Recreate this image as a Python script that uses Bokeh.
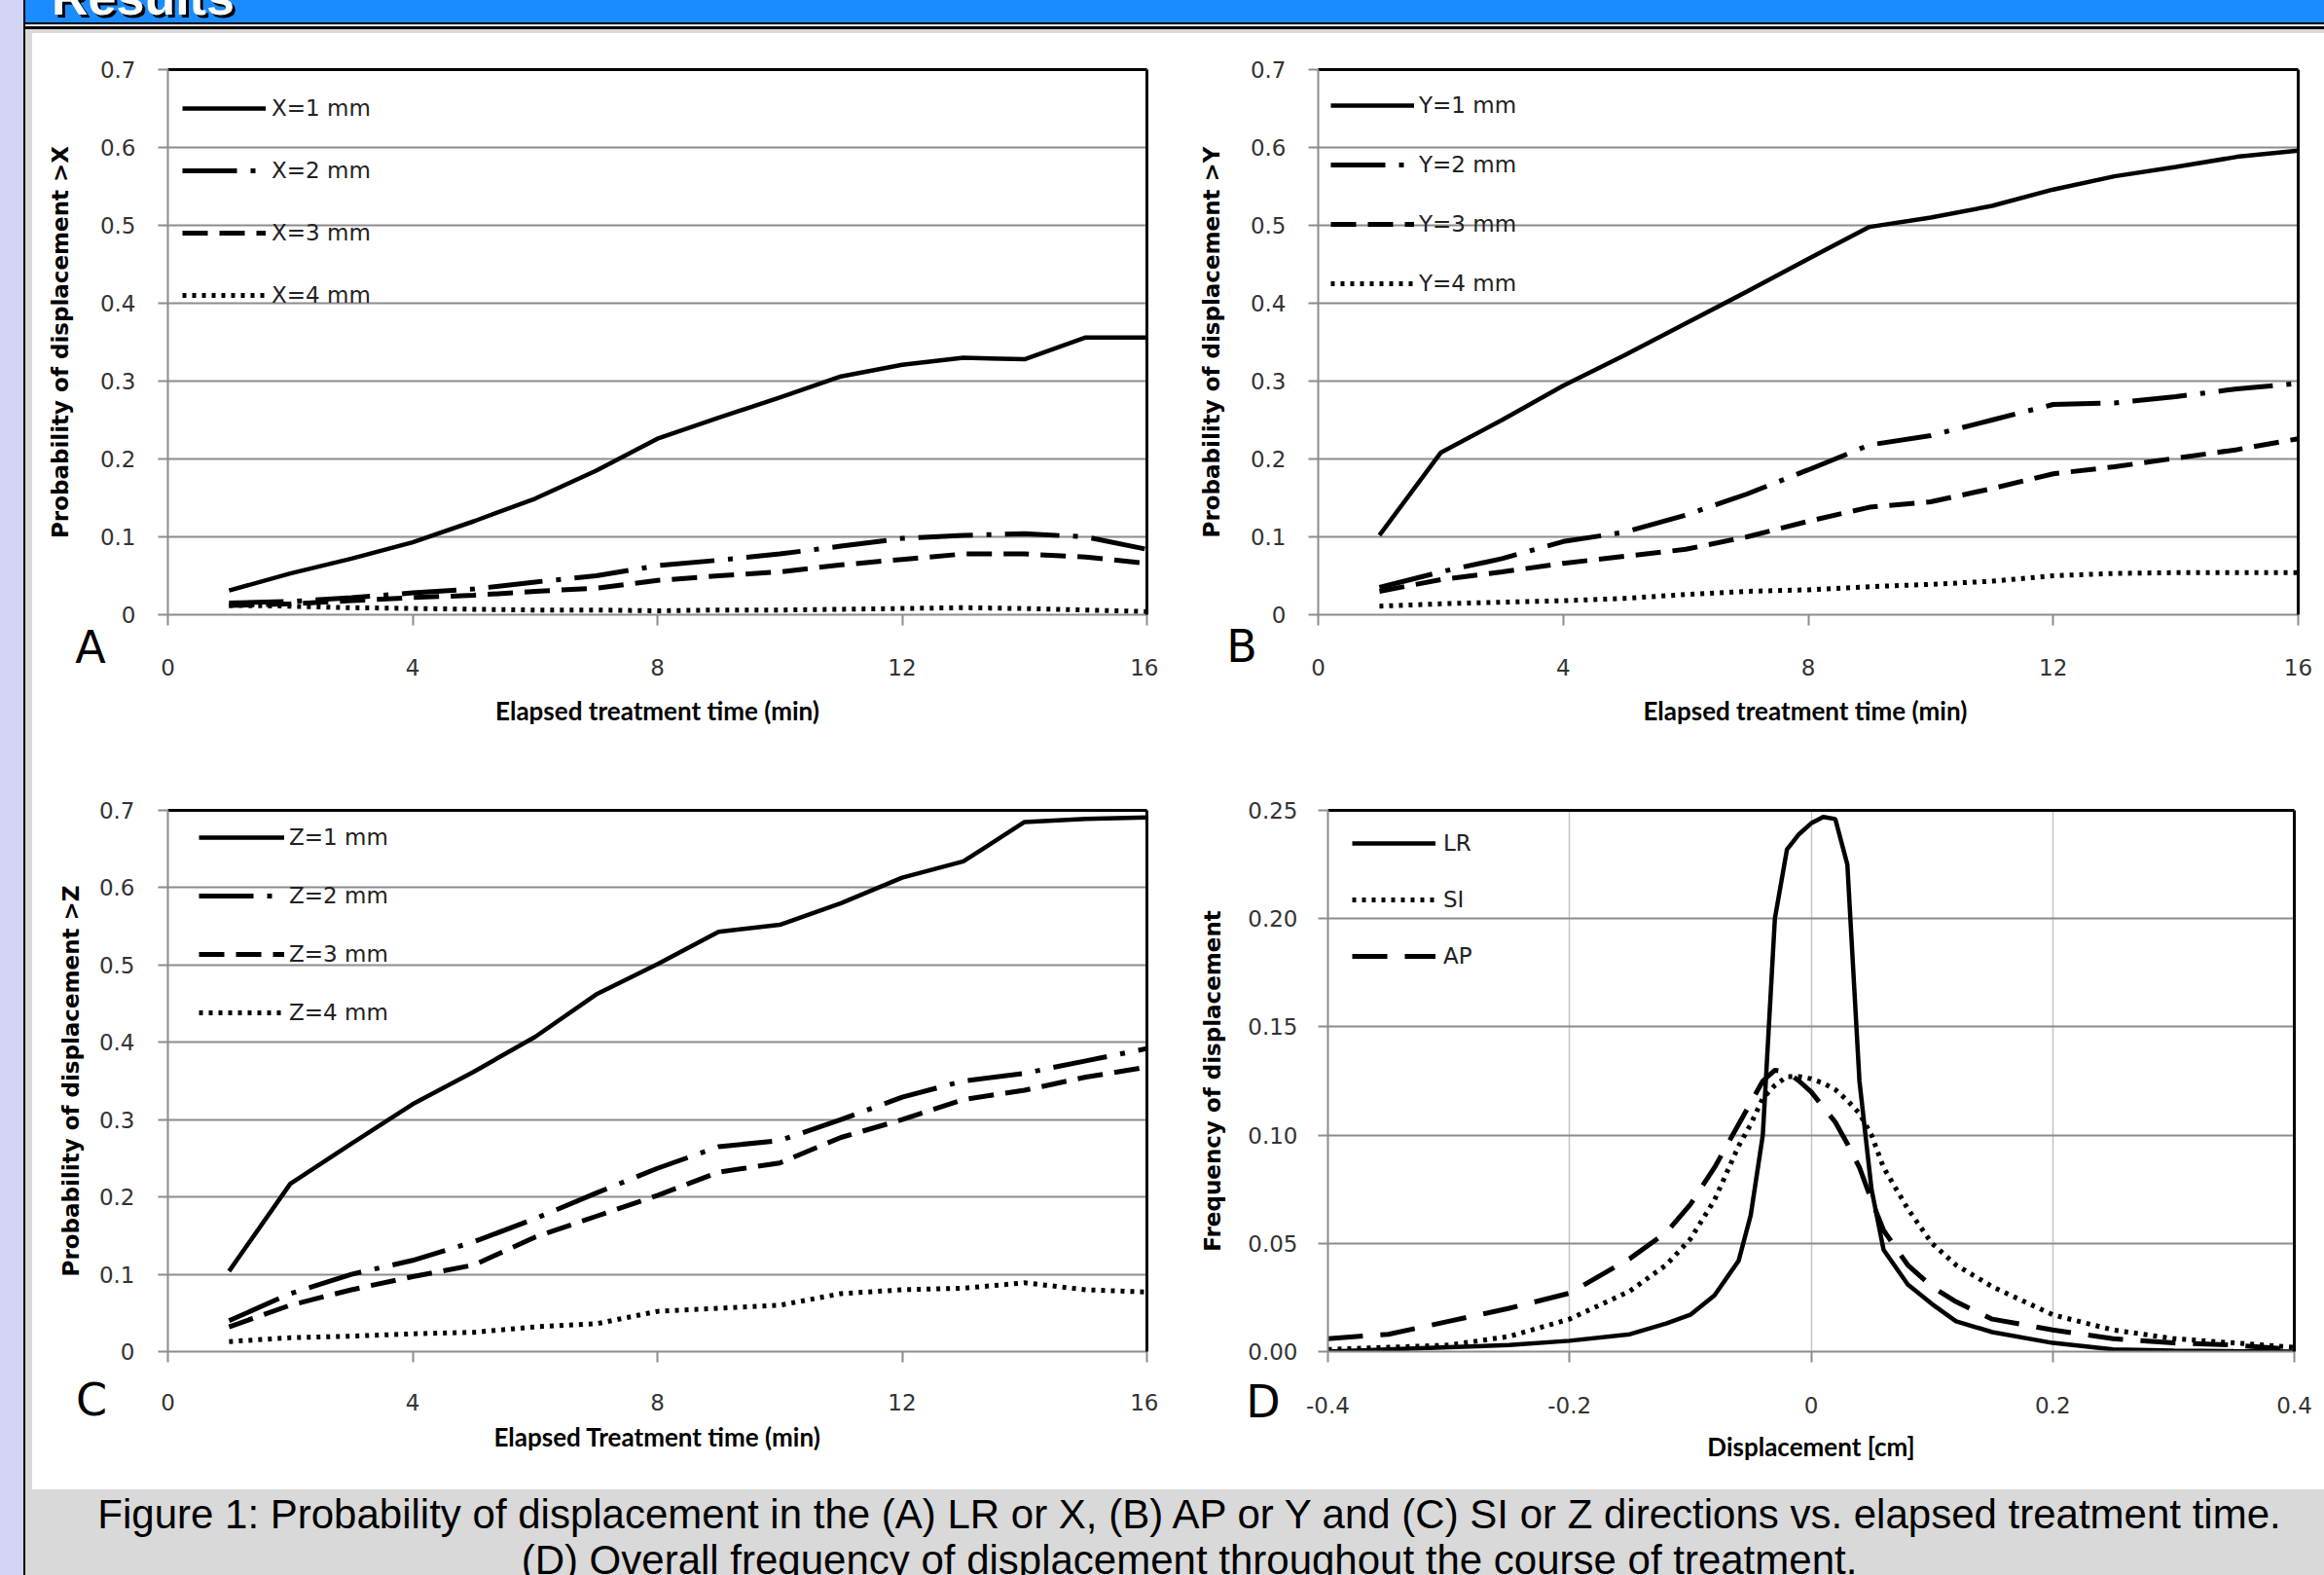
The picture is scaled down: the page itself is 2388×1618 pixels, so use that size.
from bokeh.plotting import figure
from bokeh.models import Div, Legend, LegendItem, LinearAxis, FixedTicker, Range1d
from bokeh.layouts import row, column
from bokeh.embed import file_html
from bokeh.resources import INLINE

# ---------------- data ----------------
time_min = [1, 2, 3, 4, 5, 6, 7, 8, 9, 10, 11, 12, 13, 14, 15, 16]

x_1mm = [0.031, 0.053, 0.072, 0.093, 0.120, 0.149, 0.185, 0.226, 0.253, 0.279, 0.306, 0.321, 0.330, 0.328, 0.356, 0.356]
x_2mm = [0.015, 0.017, 0.022, 0.028, 0.033, 0.042, 0.050, 0.063, 0.070, 0.078, 0.088, 0.098, 0.102, 0.104, 0.100, 0.084]
x_3mm = [0.012, 0.014, 0.018, 0.022, 0.025, 0.030, 0.034, 0.044, 0.050, 0.055, 0.064, 0.071, 0.078, 0.078, 0.074, 0.066]
x_4mm = [0.012, 0.011, 0.009, 0.008, 0.007, 0.006, 0.006, 0.005, 0.006, 0.006, 0.007, 0.008, 0.009, 0.008, 0.006, 0.004]

y_1mm = [0.102, 0.208, 0.250, 0.294, 0.333, 0.374, 0.415, 0.457, 0.498, 0.510, 0.525, 0.546, 0.563, 0.575, 0.588, 0.596]
y_2mm = [0.035, 0.055, 0.072, 0.094, 0.106, 0.128, 0.155, 0.186, 0.218, 0.230, 0.250, 0.270, 0.272, 0.280, 0.290, 0.297]
y_3mm = [0.030, 0.045, 0.055, 0.066, 0.075, 0.084, 0.100, 0.120, 0.138, 0.145, 0.162, 0.181, 0.190, 0.201, 0.212, 0.226]
y_4mm = [0.011, 0.014, 0.016, 0.018, 0.021, 0.026, 0.030, 0.032, 0.036, 0.039, 0.043, 0.050, 0.053, 0.054, 0.054, 0.054]

z_1mm = [0.104, 0.217, 0.269, 0.320, 0.362, 0.407, 0.462, 0.501, 0.543, 0.552, 0.580, 0.613, 0.634, 0.685, 0.689, 0.691]
z_2mm = [0.040, 0.075, 0.100, 0.118, 0.142, 0.172, 0.205, 0.237, 0.265, 0.273, 0.300, 0.329, 0.350, 0.360, 0.376, 0.392]
z_3mm = [0.032, 0.060, 0.080, 0.097, 0.112, 0.148, 0.175, 0.202, 0.232, 0.244, 0.277, 0.300, 0.326, 0.338, 0.355, 0.368]
z_4mm = [0.013, 0.018, 0.020, 0.023, 0.025, 0.032, 0.036, 0.052, 0.056, 0.060, 0.075, 0.080, 0.082, 0.089, 0.080, 0.077]

displacement_cm = [-0.40, -0.35, -0.30, -0.25, -0.20, -0.15, -0.12, -0.10, -0.08, -0.06, -0.05, -0.04, -0.03,
                   -0.02, -0.01, 0.00, 0.01, 0.02, 0.03, 0.04, 0.05, 0.06, 0.08, 0.10, 0.12, 0.15, 0.20,
                   0.25, 0.30, 0.35, 0.40]
freq_LR = [0.000, 0.001, 0.002, 0.003, 0.005, 0.008, 0.013, 0.017, 0.026, 0.042, 0.063, 0.100, 0.200,
           0.232, 0.239, 0.244, 0.247, 0.246, 0.225, 0.125, 0.075, 0.047, 0.031, 0.022, 0.014, 0.009, 0.004,
           0.001, 0.0005, 0.0002, 0.000]
freq_SI = [0.001, 0.002, 0.003, 0.007, 0.015, 0.028, 0.040, 0.052, 0.070, 0.095, 0.105, 0.117, 0.123,
           0.127, 0.127, 0.126, 0.124, 0.121, 0.116, 0.110, 0.100, 0.085, 0.066, 0.050, 0.040, 0.030, 0.017,
           0.010, 0.006, 0.004, 0.002]
freq_AP = [0.006, 0.008, 0.014, 0.020, 0.027, 0.043, 0.055, 0.068, 0.085, 0.105, 0.115, 0.125, 0.130,
           0.129, 0.125, 0.120, 0.113, 0.106, 0.096, 0.085, 0.070, 0.056, 0.040, 0.030, 0.023, 0.015, 0.010,
           0.006, 0.004, 0.003, 0.001]

time_ticks = [0, 4, 8, 12, 16]
time_tick_labels = ["0", "4", "8", "12", "16"]
prob_ticks = [0, 0.1, 0.2, 0.3, 0.4, 0.5, 0.6, 0.7]
prob_tick_labels = ["0", "0.1", "0.2", "0.3", "0.4", "0.5", "0.6", "0.7"]
disp_ticks = [-0.4, -0.2, 0, 0.2, 0.4]
disp_tick_labels = ["-0.4", "-0.2", "0", "0.2", "0.4"]
disp_grid = [-0.2, 0, 0.2]
freq_ticks = [0, 0.05, 0.1, 0.15, 0.2, 0.25]
freq_tick_labels = ["0.00", "0.05", "0.10", "0.15", "0.20", "0.25"]

panel_letters = ["A", "B", "C", "D"]
caption_1 = "Figure 1: Probability of displacement in the (A) LR or X, (B) AP or Y and (C) SI or Z directions vs. elapsed treatment time."
caption_2 = "(D) Overall frequency of displacement throughout the course of treatment."

# ---------------- styles ----------------
GRID = "#8c8c8c"
TICKFONT = "DejaVu Sans"
STYLE_SOLID = dict(line_width=4.5, line_dash="solid")
STYLE_DASHDOT = dict(line_width=5, line_dash="56 14 5 14")
STYLE_DASH = dict(line_width=5, line_dash="26 12")
STYLE_DOT = dict(line_width=5, line_dash="4 6")
STYLE_LONGDASH = dict(line_width=5, line_dash="36 18")
# page positions (px) of the panel letters, which sit outside the plot frames
LETTER_POS = [(93, 665), (1276, 664), (94, 1438), (1298, 1440)]


def make_panel(W, H, bl, br, bt, bb, xr, yr, xt, xtl, yt, ytl, xtitle, ytitle,
               xls, xts, yls, yts):
    p = figure(width=W, height=H, min_border_left=bl, min_border_right=br,
               min_border_top=bt, min_border_bottom=bb,
               x_range=Range1d(*xr), y_range=Range1d(*yr),
               output_backend="svg", toolbar_location=None, tools="", margin=0)
    p.outline_line_color = None
    p.background_fill_color = "white"
    p.border_fill_color = "white"
    for ax, ticks, labels in ((p.xaxis[0], xt, xtl), (p.yaxis[0], yt, ytl)):
        ax.ticker = FixedTicker(ticks=ticks)
        ax.major_label_overrides = {t: l for t, l in zip(ticks, labels)}
        ax.axis_line_color = GRID
        ax.axis_line_width = 2
        ax.major_tick_line_color = GRID
        ax.major_tick_line_width = 2
        ax.major_tick_in = 0
        ax.minor_tick_line_color = None
        ax.major_label_text_font = TICKFONT
        ax.major_label_text_font_size = "23px"
        ax.major_label_text_color = "#333333"
        ax.axis_label_text_color = "black"
        ax.axis_label_text_font_style = "bold"
    p.xaxis.major_tick_out = 11
    p.yaxis.major_tick_out = 10
    p.xaxis.axis_label = xtitle
    p.yaxis.axis_label = ytitle
    p.xaxis.axis_label_text_font = "Lato"
    p.xaxis.axis_label_text_font_size = "26px"
    p.yaxis.axis_label_text_font = "DejaVu Sans"
    p.yaxis.axis_label_text_font_size = "23px"
    p.xaxis.major_label_standoff = xls
    p.xaxis.axis_label_standoff = xts
    p.yaxis.major_label_standoff = yls
    p.yaxis.axis_label_standoff = yts
    p.ygrid.ticker = FixedTicker(ticks=yt)
    p.ygrid.grid_line_color = GRID
    p.ygrid.grid_line_width = 2
    p.xgrid.grid_line_color = None
    for side in ("above", "right"):
        b = LinearAxis(ticker=FixedTicker(ticks=[]), axis_line_color="black", axis_line_width=3,
                       major_tick_line_color=None, minor_tick_line_color=None,
                       major_tick_out=0, major_tick_in=0, major_label_standoff=0)
        p.add_layout(b, side)
    return p


def add_legend(p, items, frame_h, xoff, toff, spacing, gw, standoff):
    h = 40
    n = len(items)
    legend_h = n * h + (n - 1) * spacing
    lg = Legend(items=items, location=(xoff, frame_h - toff - legend_h),
                background_fill_alpha=0, border_line_color=None, padding=0, margin=0,
                spacing=spacing, glyph_width=gw, glyph_height=h, label_height=h,
                label_standoff=standoff, label_text_font=TICKFONT, label_text_font_size="23px",
                label_text_color="#222222")
    p.add_layout(lg)


# ---------------- panel A ----------------
pA = make_panel(1157, 746, 139, 12, 37, 149, (0, 16), (0, 0.7), time_ticks, time_tick_labels,
                prob_ticks, prob_tick_labels, "Elapsed treatment time (min)",
                "Probability of displacement >X", 34, 17, 23, 25)
rs = [pA.line(time_min, s, line_color="black", **st) for s, st in
      ((x_1mm, STYLE_SOLID), (x_2mm, STYLE_DASHDOT), (x_3mm, STYLE_DASH), (x_4mm, STYLE_DOT))]
add_legend(pA, [LegendItem(label=l, renderers=[r]) for l, r in
                zip(["X=1 mm", "X=2 mm", "X=3 mm", "X=4 mm"], rs)], 560, 15, 20, 24, 86, 6)

# ---------------- panel B ----------------
pB = make_panel(1198, 746, 164, 27, 37, 149, (0, 16), (0, 0.7), time_ticks, time_tick_labels,
                prob_ticks, prob_tick_labels, "Elapsed  treatment time (min)",
                "Probability of displacement >Y", 34, 17, 23, 24)
rs = [pB.line(time_min, s, line_color="black", **st) for s, st in
      ((y_1mm, STYLE_SOLID), (y_2mm, STYLE_DASHDOT), (y_3mm, STYLE_DASH), (y_4mm, STYLE_DOT))]
add_legend(pB, [LegendItem(label=l, renderers=[r]) for l, r in
                zip(["Y=1 mm", "Y=2 mm", "Y=3 mm", "Y=4 mm"], rs)], 560, 13, 17, 21, 86, 5)

# ---------------- panel C ----------------
pC = make_panel(1157, 750, 139, 12, 49, 139, (0, 16), (0, 0.7), time_ticks, time_tick_labels,
                prob_ticks, prob_tick_labels, "Elapsed Treatment time (min)",
                "Probability of displacement >Z", 32, 8, 24, 13)
rs = [pC.line(time_min, s, line_color="black", **st) for s, st in
      ((z_1mm, STYLE_SOLID), (z_2mm, STYLE_DASHDOT), (z_3mm, STYLE_DASH), (z_4mm, STYLE_DOT))]
add_legend(pC, [LegendItem(label=l, renderers=[r]) for l, r in
                zip(["Z=1 mm", "Z=2 mm", "Z=3 mm", "Z=4 mm"], rs)], 562, 32, 14, 20, 88, 5)

# ---------------- panel D ----------------
pD = make_panel(1198, 750, 174, 31, 52, 142, (-0.4, 0.4), (0, 0.25), disp_ticks, disp_tick_labels,
                freq_ticks, freq_tick_labels, "Displacement [cm]",
                "Frequency of displacement", 35, 15, 21, 20)
pD.xgrid.ticker = FixedTicker(ticks=disp_grid)
pD.xgrid.grid_line_color = "#c4c4c4"
pD.xgrid.grid_line_width = 1.5
rs = [pD.line(displacement_cm, s, line_color="black", **st) for s, st in
      ((freq_LR, STYLE_SOLID), (freq_SI, STYLE_DOT), (freq_AP, STYLE_LONGDASH))]
add_legend(pD, [LegendItem(label=l, renderers=[r]) for l, r in
                zip(["LR", "SI", "AP"], rs)], 556, 25, 14, 18, 86, 8)

# ---------------- page frame ----------------
FONT_CAP = "'Liberation Sans', Arial, sans-serif"
header = Div(width=2362, height=34, margin=0, text=(
    '<div style="position:relative;width:2362px;height:34px;overflow:hidden;'
    'background:linear-gradient(to bottom,#1a8cff 0,#1a8cff 23px,#000 23px,#000 25px,'
    '#e6e6e6 25px,#e6e6e6 27px,#000 27px,#000 30px,#d9d9d9 30px,#d9d9d9 34px)">'
    '<span style="position:absolute;left:27px;top:-29px;font-family:' + FONT_CAP + ';'
    'font-weight:bold;font-size:52px;line-height:52px;color:#ffffff;'
    'text-shadow:3px 3px 0 #000;white-space:nowrap">Results</span></div>'))

letter_spans = "".join(
    '<span style="position:absolute;left:%dpx;top:%dpx;transform:translate(-50%%,-50%%);'
    "font-family:'DejaVu Sans',sans-serif;font-size:46px;line-height:46px;color:#000;"
    'white-space:nowrap">%s</span>' % (x, y, t)
    for (x, y), t in zip(LETTER_POS, panel_letters))
strip = Div(width=26, height=1618, margin=0,
            styles={"overflow": "visible", "position": "relative", "z-index": "10"},
            text=('<div style="position:relative;width:26px;height:1618px;overflow:visible;'
                  'background:linear-gradient(to right,#d3d3f3 0,#d3d3f3 24px,#000 24px,#000 26px)">'
                  + letter_spans + '</div>'))
gray_edge = Div(width=7, height=1496, margin=0,
                text='<div style="width:7px;height:1496px;background:#d9d9d9"></div>')
caption = Div(width=2362, height=88, margin=0, text=(
    '<div style="width:2362px;height:88px;background:#d9d9d9;font-family:' + FONT_CAP + ';'
    'font-size:42px;line-height:47px;text-align:center;color:#000;padding-top:2px;'
    'padding-left:30px;box-sizing:border-box;overflow:hidden;white-space:nowrap">'
    + caption_1 + '<br>' + caption_2 + '</div>'))

grid = column(row(pA, pB, margin=0, spacing=0), row(pC, pD, margin=0, spacing=0), margin=0, spacing=0)
page = row(strip, column(header, row(gray_edge, grid, margin=0, spacing=0), caption, margin=0, spacing=0),
           margin=0, spacing=0)

open("out.html", "w").write(file_html(page, INLINE))
